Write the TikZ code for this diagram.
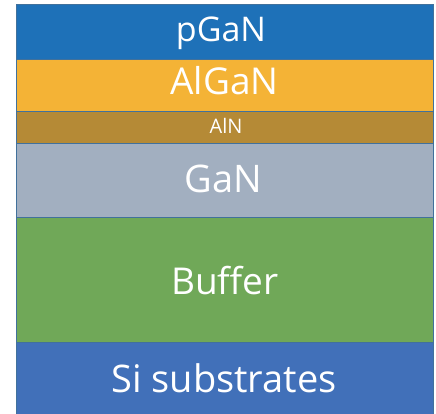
\documentclass[tikz,border=0pt]{standalone}
\usepackage{fontspec}
\setmainfont{Open Sans}
\definecolor{edge}{HTML}{41719C}
\definecolor{pgancol}{HTML}{1E71B8}
\definecolor{algancol}{HTML}{F4B336}
\definecolor{alncol}{HTML}{B58A36}
\definecolor{gancol}{HTML}{A2AFC0}
\definecolor{buffercol}{HTML}{70A858}
\definecolor{sicol}{HTML}{4170B9}
\begin{document}
\begin{tikzpicture}[x=1pt,y=-1pt,
  layer/.style={draw=edge, line width=0.8pt, inner sep=0pt,
                minimum width=417pt, anchor=north},
  label/.style={text=white, inner sep=0pt, anchor=base}]
\useasboundingbox (0,0) rectangle (436,414);
% layer stack, top to bottom: top edge, bottom edge, fill, name
\newcommand\layerbox[4]{%
  \node[layer, fill=#3, minimum height={(#2-#1)*1pt}] (#4) at (224.5,#1) {};}
\layerbox{4.5}{59}{pgancol}{pgan}
\layerbox{59}{111}{algancol}{algan}
\layerbox{111}{143}{alncol}{aln}
\layerbox{143}{217}{gancol}{gan}
\layerbox{217}{342}{buffercol}{buffer}
\layerbox{342}{416}{sicol}{si}
% layer names, placed on their baselines
\node[label, font=\fontsize{34}{34}\selectfont] (pganlabel) at (221,41.7) {pGaN};
\node[label, font=\fontsize{37}{37}\selectfont] (alganlabel) at (224.5,95) {AlGaN};
\node[label, font=\fontsize{20}{20}\selectfont] (alnlabel) at (226,133.3) {AlN};
\node[label, font=\fontsize{38}{38}\selectfont] (ganlabel) at (223.5,192.7) {GaN};
\node[label, font=\fontsize{37}{37}\selectfont] (bufferlabel) at (225,294) {Buffer};
\node[label, font=\fontsize{38}{38}\selectfont] (silabel) at (224,392.7) {Si substrates};
\end{tikzpicture}
\end{document}
